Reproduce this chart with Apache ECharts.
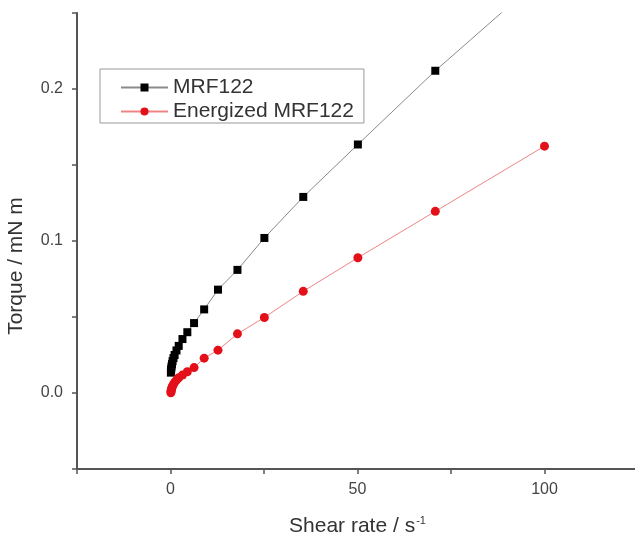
<!DOCTYPE html>
<html>
<head>
<meta charset="utf-8">
<script src="https://cdn.jsdelivr.net/npm/echarts@6/dist/echarts.min.js"></script>
<style>html,body{margin:0;padding:0;background:#fff}#c{width:635px;height:541px}</style>
</head>
<body>
<div id="c"></div>
<script>
const shearRate = [100, 70.8, 50.1, 35.5, 25.1, 17.9, 12.7, 9.0, 6.3, 4.5, 3.2, 2.2, 1.6, 1.1, 0.8, 0.56, 0.4, 0.28, 0.2, 0.14, 0.1];
const torqueMRF = [0.275, 0.212, 0.1635, 0.129, 0.102, 0.081, 0.068, 0.055, 0.046, 0.040, 0.0355, 0.031, 0.028, 0.025, 0.023, 0.021, 0.019, 0.0175, 0.016, 0.0148, 0.0134];
const torqueEnergized = [0.1624, 0.1195, 0.089, 0.0669, 0.0497, 0.0389, 0.0282, 0.0229, 0.0167, 0.0140, 0.0118, 0.0100, 0.0085, 0.0070, 0.0057, 0.0046, 0.0036, 0.0027, 0.0018, 0.0010, 0.0002];
const xTickLabels = {0: '0', 50: '50', 100: '100'};
const yTickLabels = {0: '0.0', 10: '0.1', 20: '0.2'};
const seriesNames = ['MRF122', 'Energized MRF122'];

const chart = echarts.init(document.getElementById('c'), null, {renderer: 'canvas'});
const font = '"Liberation Sans", Arial, sans-serif';
const axisCol = '#555';
chart.setOption({
  animation: false,
  backgroundColor: '#fff',
  textStyle: {fontFamily: font},
  grid: {left: 77, top: 13, width: 561, height: 456, containLabel: false, outerBoundsMode: 'none'},
  legend: {
    orient: 'vertical', left: 100, top: 69,
    borderColor: '#999', borderWidth: 1,
    padding: [8, 10, 1, 20], itemGap: 3,
    itemWidth: 47, itemHeight: 10,
    textStyle: {fontSize: 21, lineHeight: 21, color: '#333', fontFamily: font},
    data: seriesNames
  },
  xAxis: {
    type: 'value', min: -25, max: 125, interval: 25,
    splitLine: {show: false},
    axisLine: {onZero: false, lineStyle: {color: axisCol, width: 2}},
    axisTick: {length: 5, lineStyle: {color: axisCol, width: 1.5}},
    axisLabel: {fontSize: 16, color: '#444', margin: 13,
      formatter: v => (xTickLabels[Math.round(v)] !== undefined ? xTickLabels[Math.round(v)] : '')},
    name: 'Shear rate / s{sup|-1}', nameLocation: 'middle', nameGap: 46,
    nameTextStyle: {fontSize: 21, color: '#333', rich: {sup: {fontSize: 11, verticalAlign: 'top', padding: [0, 0, 12, 1], color: '#333'}}}
  },
  yAxis: {
    type: 'value', min: -0.05, max: 0.25, interval: 0.05,
    splitLine: {show: false},
    axisLine: {onZero: false, lineStyle: {color: axisCol, width: 2}},
    axisTick: {length: 5, lineStyle: {color: axisCol, width: 1.5}},
    axisLabel: {fontSize: 16, color: '#444', margin: 14,
      formatter: v => { const k = Math.round(v * 100); return yTickLabels[k] !== undefined ? yTickLabels[k] : ''; }}
  },
  graphic: [{
    type: 'text', x: 16, y: 266, rotation: Math.PI / 2,
    style: {text: 'Torque / mN m', fontSize: 21, fill: '#333', fontFamily: font, align: 'center', verticalAlign: 'middle'}
  }],
  series: [
    {
      name: seriesNames[0], type: 'line', clip: true,
      data: shearRate.map((x, i) => [x, torqueMRF[i]]),
      symbol: 'rect', symbolSize: 8,
      lineStyle: {color: '#8a8a8a', width: 1},
      itemStyle: {color: '#000'}
    },
    {
      name: seriesNames[1], type: 'line', clip: true,
      data: shearRate.map((x, i) => [x, torqueEnergized[i]]),
      symbol: 'circle', symbolSize: 9,
      lineStyle: {color: '#f08585', width: 1},
      itemStyle: {color: '#e3101a'}
    }
  ]
});
</script>
</body>
</html>
